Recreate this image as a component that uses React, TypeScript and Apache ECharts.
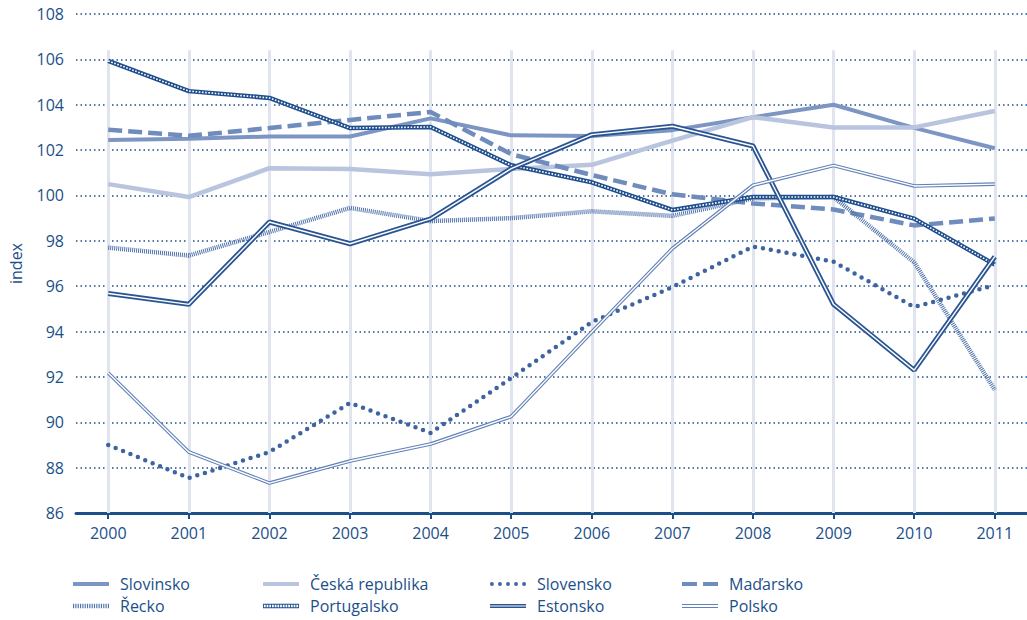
import React, { useEffect, useRef } from "react";
import * as echarts from "echarts";

const years = [2000, 2001, 2002, 2003, 2004, 2005, 2006, 2007, 2008, 2009, 2010, 2011];
const yTicks = [86, 88, 90, 92, 94, 96, 98, 100, 102, 104, 106, 108];

const slovinsko = [102.45, 102.5, 102.6, 102.6, 103.4, 102.65, 102.62, 102.88, 103.45, 104.0, 102.98, 102.08];
const ceska = [100.5, 99.93, 101.2, 101.17, 100.94, 101.17, 101.35, 102.42, 103.45, 103.0, 103.0, 103.72];
const slovensko = [89.0, 87.54, 88.69, 90.85, 89.53, 91.95, 94.42, 95.96, 97.75, 97.08, 95.08, 96.05];
const madarsko = [102.9, 102.63, 102.97, 103.33, 103.68, 101.82, 100.9, 100.05, 99.65, 99.38, 98.68, 98.98];
const recko = [97.7, 97.35, 98.39, 99.45, 98.87, 99.0, 99.3, 99.1, 99.87, 99.93, 97.05, 91.43];
const portugalsko = [105.93, 104.6, 104.3, 102.97, 103.02, 101.33, 100.58, 99.36, 99.93, 99.93, 98.98, 96.95];
const estonsko = [95.68, 95.2, 98.83, 97.87, 98.97, 101.18, 102.68, 103.05, 102.18, 95.2, 92.3, 97.3];
const polsko = [92.17, 88.69, 87.32, 88.29, 89.04, 90.25, 93.98, 97.66, 100.45, 101.32, 100.42, 100.5];

const TEXT = "#1b4f8a";
const FONT = "'Open Sans', 'Noto Sans', sans-serif";

const C_SLOVINSKO = "#7d95c3";
const C_CESKA = "#b9c4df";
const C_SLOVENSKO = "#3d64a0";
const C_MADARSKO = "#6f8cbd";
const C_RECKO = "#4f73ab";
const C_PORTUGALSKO = "#1f4e8c";
const C_ESTONSKO = "#2a5592";
const C_POLSKO = "#6281b6";

function circle(cx: number, cy: number, r: number) {
  return `M${cx - r},${cy}a${r},${r} 0 1,0 ${2 * r},0a${r},${r} 0 1,0 ${-2 * r},0Z`;
}

function iconSolid() {
  return "path://M0,0H36V4H0Z";
}
function iconDots() {
  let s = "";
  for (let i = 0; i < 5; i++) s += circle(2 + i * 8, 2, 1.9);
  return "path://" + s;
}
function iconDash() {
  return "path://M0,0H15V4H0ZM21,0H36V4H21Z";
}
function iconStripes() {
  let s = "";
  for (let i = 0; i < 16; i++) s += `M${i * 2},0H${i * 2 + 1}V4H${i * 2}Z`;
  return "path://" + s;
}
function iconChain() {
  let s = "M0,0H32V0.9H0ZM0,3.1H32V4H0Z";
  for (let i = 0; i < 14; i++) s += `M${i * 2.4},0H${i * 2.4 + 0.8}V4H${i * 2.4}Z`;
  return "path://" + s;
}
function iconDouble(t: number) {
  return `path://M0,0H36V${t}H0ZM0,${4 - t}H36V4H0Z`;
}

export default function App() {
  const ref = useRef<HTMLDivElement>(null);
  useEffect(() => {
    if (!ref.current) return;
    const chart = echarts.init(ref.current, undefined, { renderer: "svg" });
    const xy = (arr: number[]) => years.map((y, i) => [y, arr[i]]);
    const legendOne = (left: number, top: number, name: string, icon: string, color: string) => ({
      orient: "horizontal",
      left,
      top,
      padding: 0,
      itemWidth: 36,
      itemHeight: 8,
      textStyle: { color: TEXT, fontSize: 16, fontFamily: FONT, padding: [0, 0, 0, 6] },
      data: [{ name, icon, itemStyle: { color, borderWidth: 0 } }],
    });
    const r1 = 576;
    const r2 = 598;
    const base = {
      type: "line" as const,
      symbol: "none",
      showSymbol: false,
      silent: true,
    };
    chart.setOption({
      animation: false,
      backgroundColor: "#ffffff",
      grid: { left: 74, right: 0, top: 14, bottom: 107, containLabel: false },
      legend: [
        legendOne(73, r1, "Slovinsko", iconSolid(), C_SLOVINSKO),
        legendOne(73, r2, "Řecko", iconStripes(), C_RECKO),
        legendOne(263, r1, "Česká republika", iconSolid(), C_CESKA),
        legendOne(263, r2, "Portugalsko", iconChain(), C_PORTUGALSKO),
        legendOne(490, r1, "Slovensko", iconDots(), C_SLOVENSKO),
        legendOne(490, r2, "Estonsko", iconDouble(1.6), C_ESTONSKO),
        legendOne(682, r1, "Maďarsko", iconDash(), C_MADARSKO),
        legendOne(682, r2, "Polsko", iconDouble(1.1), C_POLSKO),
      ],
      xAxis: {
        type: "value",
        min: 1999.6,
        max: 2011.4,
        axisLine: { show: true, lineStyle: { color: TEXT, width: 3 } },
        axisTick: { show: true, customValues: years, length: 6, lineStyle: { color: TEXT, width: 2 } },
        axisLabel: {
          customValues: years,
          formatter: (v: number) => String(v),
          color: TEXT,
          fontSize: 16,
          fontFamily: FONT,
          margin: 12,
        },
        splitLine: { show: false },
      },
      yAxis: {
        type: "value",
        min: 86,
        max: 108,
        interval: 2,
        name: "index",
        nameLocation: "middle",
        nameGap: 52,
        nameRotate: 90,
        nameTextStyle: { color: TEXT, fontSize: 16, fontFamily: FONT },
        axisLine: { show: false },
        axisTick: { show: false },
        axisLabel: { color: TEXT, fontSize: 16, fontFamily: FONT, margin: 12, formatter: (v: number) => (yTicks.includes(v) ? String(v) : "") },
        splitLine: { show: true, lineStyle: { color: TEXT, width: 1.5, type: [1.5, 3] } },
      },
      series: [
        {
          ...base,
          name: "grid-lines",
          data: [],
          z: 1,
          markLine: {
            silent: true,
            symbol: "none",
            z: 1,
            label: { show: false },
            lineStyle: { color: "#dfe4ef", width: 3, type: "solid" },
            data: years.map((y) => [{ coord: [y, 86] }, { coord: [y, 106.4] }]),
          },
        },
        { ...base, name: "Slovinsko", data: xy(slovinsko), lineStyle: { color: C_SLOVINSKO, width: 4 }, itemStyle: { color: C_SLOVINSKO } },
        { ...base, name: "Česká republika", data: xy(ceska), lineStyle: { color: C_CESKA, width: 4.5 }, itemStyle: { color: C_CESKA } },
        { ...base, name: "Slovensko", data: xy(slovensko), lineStyle: { color: C_SLOVENSKO, width: 4.5, type: [0, 8], cap: "round" }, itemStyle: { color: C_SLOVENSKO } },
        { ...base, name: "Maďarsko", data: xy(madarsko), lineStyle: { color: C_MADARSKO, width: 4.5, type: [14, 6] }, itemStyle: { color: C_MADARSKO } },
        { ...base, name: "Řecko", data: xy(recko), lineStyle: { color: C_RECKO, width: 4.5, type: [1, 1] }, itemStyle: { color: C_RECKO } },
        { ...base, name: "Portugalsko", data: xy(portugalsko), lineStyle: { color: C_PORTUGALSKO, width: 4.5 }, itemStyle: { color: C_PORTUGALSKO } },
        { ...base, name: "Portugalsko", data: xy(portugalsko), lineStyle: { color: "#ffffff", width: 1.6, type: [1.6, 1.6] }, itemStyle: { color: C_PORTUGALSKO } },
        { ...base, name: "Estonsko", data: xy(estonsko), lineStyle: { color: C_ESTONSKO, width: 5 }, itemStyle: { color: C_ESTONSKO } },
        { ...base, name: "Estonsko", data: xy(estonsko), lineStyle: { color: "#ffffff", width: 1.4 }, itemStyle: { color: C_ESTONSKO } },
        { ...base, name: "Polsko", data: xy(polsko), lineStyle: { color: C_POLSKO, width: 3.6 }, itemStyle: { color: C_POLSKO } },
        { ...base, name: "Polsko", data: xy(polsko), lineStyle: { color: "#ffffff", width: 1.4 }, itemStyle: { color: C_POLSKO } },
      ],
    });
    return () => chart.dispose();
  }, []);
  return <div ref={ref} style={{ position: "fixed", left: 0, top: 0, width: 1027, height: 620 }} />;
}
